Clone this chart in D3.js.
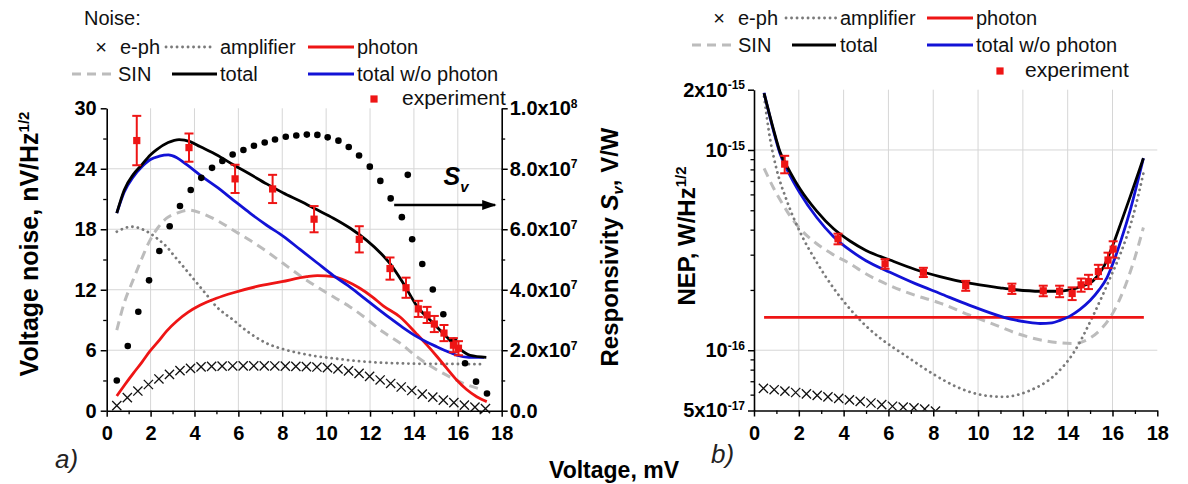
<!DOCTYPE html>
<html><head><meta charset="utf-8">
<script src="https://cdn.jsdelivr.net/npm/d3@7"></script>
<style>
body{margin:0;background:#fff;}
svg{display:block;font-family:"Liberation Sans",Arial,sans-serif;}
</style></head><body>
<svg id="c" width="1188" height="484"></svg>
<script>
// ---------------- DATA ----------------
// (a) Voltage noise, nV/Hz^1/2 vs bias voltage, mV
const respV = [0.46,0.96,1.44,1.93,2.40,2.87,3.34,3.83,4.31,4.80,5.27,5.74,6.23,6.71,7.20,7.67,8.16,8.64,9.12,9.60,10.07,10.56,11.03,11.50,11.99,12.47,12.94,13.45,13.72,13.92,14.38,14.86,15.34,15.83,16.33,16.83,17.33];
const respS = [1.0e7,2.14e7,3.27e7,4.31e7,5.28e7,6.1e7,6.77e7,7.3e7,7.7e7,8.03e7,8.26e7,8.47e7,8.62e7,8.76e7,8.87e7,8.97e7,9.06e7,9.1e7,9.13e7,9.12e7,9.04e7,8.93e7,8.72e7,8.44e7,8.07e7,7.6e7,7.02e7,6.4e7,7.8e7,5.67e7,4.85e7,4.01e7,3.19e7,2.31e7,1.57e7,0.96e7,0.57e7];

const ephV = [0.46,0.94,1.42,1.9,2.38,2.86,3.34,3.82,4.3,4.78,5.26,5.74,6.22,6.7,7.18,7.66,8.14,8.62,9.1,9.58,10.06,10.54,11.02,11.5,11.98,12.46,12.94,13.42,13.9,14.38,14.86,15.34,15.82,16.3,16.78,17.26];
const ephN = [0.5,1.3,1.95,2.6,3.15,3.6,3.97,4.2,4.35,4.4,4.42,4.44,4.45,4.45,4.45,4.44,4.42,4.4,4.37,4.33,4.27,4.15,3.95,3.7,3.4,3.05,2.7,2.35,2.0,1.65,1.35,1.05,0.8,0.55,0.35,0.2];

const ampV = [0.46,0.8,1.14,1.5,1.97,2.35,2.73,3.1,3.49,3.87,4.25,4.63,5.01,5.39,5.77,6.15,6.53,6.9,7.29,8.05,8.81,9.57,10.33,11.09,11.85,12.6,13.37,14.5,15.5,16.5,17.2];
const ampN = [17.76,18.1,18.25,18.1,17.6,17.0,16.27,15.3,14.3,13.3,12.3,11.3,10.3,9.6,9.0,8.3,7.68,7.15,6.69,6.1,5.7,5.4,5.2,5.0,4.86,4.75,4.7,4.65,4.65,4.62,4.62];

const sinV = [0.46,0.8,1.21,1.6,1.97,2.35,2.73,3.2,3.72,4.3,5.01,5.77,6.53,7.29,8.05,8.81,9.57,10.33,11.09,11.85,12.6,13.37,14.13,14.7,15.34,16.25,17.17];
const sinN = [8.0,10.7,13.0,15.1,16.9,18.2,19.1,19.6,19.9,19.6,18.9,17.9,16.9,15.8,14.6,13.4,12.3,11.3,10.3,9.1,7.8,6.7,5.36,4.5,3.7,2.72,2.05];

const photV = [0.46,0.8,1.21,1.6,1.97,2.4,2.73,3.2,3.7,4.25,5.0,5.77,6.8,7.98,9.12,9.6,10.33,10.94,11.5,12.1,12.6,13.37,14.13,14.6,15.04,15.5,15.95,16.4,16.86,17.32];
const photN = [1.46,2.5,3.7,4.8,5.9,7.0,7.9,8.9,9.75,10.45,11.15,11.7,12.3,12.8,13.3,13.4,13.3,12.85,12.2,11.3,10.4,9.3,7.6,6.5,5.4,4.2,3.05,2.1,1.39,0.9];

const totV = [0.46,0.8,1.2,1.52,2.0,2.28,2.8,3.3,3.8,4.25,5.0,5.77,6.5,7.29,8.05,8.81,9.57,10.33,11.1,11.85,12.5,12.91,13.5,14.13,14.89,15.5,15.95,16.56,17.3];
const totN = [19.6,21.9,23.4,24.2,25.4,25.9,26.6,26.9,26.7,26.2,25.4,24.4,23.5,22.5,21.6,20.8,19.95,19.1,18.1,16.9,15.6,14.6,12.7,10.4,8.67,7.3,6.35,5.5,5.3];

const wopV = [0.46,0.8,1.21,1.6,1.97,2.4,2.81,3.2,3.65,4.3,5.01,5.77,6.53,7.29,8.05,8.81,9.57,10.33,11.0,11.6,12.3,12.9,13.5,14.13,14.6,15.04,15.5,15.95,16.5,17.2];
const wopN = [19.6,21.7,23.2,24.2,24.9,25.25,25.37,25.1,24.4,23.3,22.2,20.9,19.6,18.4,17.3,16.0,14.7,13.4,12.4,11.4,10.2,9.2,8.25,7.35,6.8,6.35,5.9,5.5,5.3,5.3];

const expV = [1.37,3.75,5.85,7.56,9.45,11.51,12.91,13.64,14.2,14.6,14.93,15.37,15.8,16.03];
const expN = [26.8,26.1,23.0,22.0,19.0,17.0,14.1,12.2,10.1,9.5,8.6,7.7,6.5,6.2];
const expNErr = [2.45,1.4,1.4,1.4,1.3,1.3,1.1,1.0,0.8,0.8,0.8,0.8,0.7,0.7];

// (b) NEP, units of 1e-16 W/Hz^1/2
const ephNEPV = [0.42,0.9,1.38,1.86,2.34,2.82,3.3,3.78,4.26,4.74,5.22,5.7,6.18,6.66,7.14,7.62,8.1];
const ephNEP = [0.645,0.635,0.625,0.615,0.605,0.595,0.585,0.575,0.565,0.555,0.545,0.535,0.525,0.52,0.515,0.508,0.497];

const ampNEPV = [0.45,0.71,1.01,1.46,2.05,2.8,3.54,4.3,5.0,5.63,6.82,8.0,9.0,10.09,11.13,12.32,13.36,14.26,15.15,15.9,16.34,16.9,17.38];
const ampNEP = [18.5,11.5,8.0,5.6,3.9,2.75,2.05,1.6,1.32,1.15,0.93,0.76,0.66,0.6,0.585,0.63,0.74,0.97,1.5,2.3,3.0,4.6,7.65];

const sinNEPV = [0.45,0.86,1.31,1.6,2.05,2.8,3.54,4.3,4.8,6.07,7.2,8.3,9.6,10.98,11.58,12.3,13.07,14.26,15.0,15.5,16.04,16.64,17.0,17.38];
const sinNEP = [8.1,6.5,5.3,4.7,4.05,3.4,3.0,2.7,2.48,2.1,1.88,1.72,1.5,1.31,1.23,1.16,1.11,1.08,1.15,1.28,1.55,2.2,2.9,4.1];

const photNEPV = [0.45,17.4];
const photNEP = [1.46,1.46];

const totNEPV = [0.45,0.86,1.16,1.6,2.05,2.8,3.54,4.3,5.0,6.07,7.2,8.3,9.6,10.98,11.58,12.77,13.5,14.1,14.6,15.13,15.6,16.04,16.4,16.79,17.38];
const totNEP = [19.2,12.8,9.8,7.8,6.4,4.95,4.05,3.5,3.15,2.82,2.53,2.33,2.16,2.05,2.01,1.97,1.97,2.0,2.08,2.22,2.6,3.4,4.4,5.85,9.1];

const wopNEPV = [0.45,0.86,1.16,1.6,2.05,2.8,3.54,4.3,5.0,6.07,7.2,8.3,9.6,10.98,11.58,12.2,12.77,13.3,13.66,14.1,14.55,15.0,15.4,15.75,16.04,16.4,16.79,17.38];
const wopNEP = [19.3,12.6,9.6,7.5,6.1,4.6,3.7,3.15,2.8,2.45,2.15,1.92,1.68,1.48,1.42,1.38,1.36,1.37,1.41,1.48,1.6,1.77,2.0,2.3,2.75,3.6,5.0,9.1];

const expNEPV = [1.37,3.75,5.85,7.56,9.45,11.51,12.91,13.64,14.2,14.6,14.93,15.37,15.8,16.03];
const expNEP = [8.5,3.6,2.7,2.45,2.1,2.03,1.98,1.97,1.92,2.12,2.2,2.47,2.82,3.2];
const expNEPErr = [0.85,0.22,0.15,0.13,0.12,0.12,0.12,0.13,0.14,0.16,0.18,0.2,0.25,0.3];

// ticks
const xTicks = [0,2,4,6,8,10,12,14,16,18];
const xMinor = [1,3,5,7,9,11,13,15,17];
const xGrid = [2,4,6,8,10,12,14,16];
const noiseTicks = [0,6,12,18,24,30];
const noiseMinor = [3,9,15,21,27];
const noiseGrid = [6,12,18,24];
const respTicks = [0,2e7,4e7,6e7,8e7,1e8];
const respMinor = [1e7,3e7,5e7,7e7,9e7];
const respLabels = [["0.0",""],["2.0x10","7"],["4.0x10","7"],["6.0x10","7"],["8.0x10","7"],["1.0x10","8"]];
const nepTicks = [5e-17,1e-16,1e-15,2e-15];
const nepMinor = [6e-17,7e-17,8e-17,9e-17,2e-16,3e-16,4e-16,5e-16,6e-16,7e-16,8e-16,9e-16];
const nepGrid = [1e-16,1e-15];
const nepLabels = [["5x10","-17"],["10","-16"],["10","-15"],["2x10","-15"]];

// ---------------- DRAW ----------------
const svg = d3.select("#c");
const FONT = '"Liberation Sans", Arial, sans-serif';
const RED = "#ee1515", BLUE = "#1212d6", GRID = "#d6d6d6";

const xL = d3.scaleLinear([0,18],[106.7,501.7]);
const yL = d3.scaleLinear([0,30],[410.7,108.3]);
const yS = d3.scaleLinear([0,1e8],[410.7,108.3]);
const xR = d3.scaleLinear([0,18],[754,1157.3]);
const yN = d3.scaleLog([5e-17,2e-15],[410.5,89.7]);

const defs = svg.append("defs");
defs.append("clipPath").attr("id","clipR").append("rect")
  .attr("x",xR(0)).attr("y",yN(2e-15)).attr("width",xR(18)-xR(0)+10).attr("height",yN(5e-17)-yN(2e-15));
defs.append("marker").attr("id","arr").attr("viewBox","0 0 10 10").attr("refX",9).attr("refY",5)
  .attr("markerWidth",6).attr("markerHeight",6).attr("orient","auto").attr("markerUnits","strokeWidth")
  .append("path").attr("d","M0,1.5L10,5L0,8.5Z").attr("fill","#000");

// grids
const gl = svg.append("g");
gl.selectAll("line.v").data(xGrid).join("line").attr("class","v").attr("x1",d=>xL(d)).attr("x2",d=>xL(d))
  .attr("y1",yL(0)).attr("y2",yL(30)).attr("stroke",GRID).attr("stroke-width",1);
gl.selectAll("line.h").data(noiseGrid).join("line").attr("class","h").attr("y1",d=>yL(d)).attr("y2",d=>yL(d))
  .attr("x1",xL(0)).attr("x2",xL(18)).attr("stroke",GRID).attr("stroke-width",1);
const gr = svg.append("g");
gr.selectAll("line.v").data(xGrid).join("line").attr("class","v").attr("x1",d=>xR(d)).attr("x2",d=>xR(d))
  .attr("y1",yN(5e-17)).attr("y2",yN(2e-15)).attr("stroke",GRID).attr("stroke-width",1);
gr.selectAll("line.h").data(nepGrid).join("line").attr("class","h").attr("y1",d=>yN(d)).attr("y2",d=>yN(d))
  .attr("x1",xR(0)).attr("x2",xR(18)).attr("stroke",GRID).attr("stroke-width",1);

const styles = {
  sin:{stroke:"#bcbcbc", w:3, dash:"9 6", cap:"butt"},
  amp:{stroke:"#7a7a7a", w:2.8, dash:"0.1 5.4", cap:"round"},
  phot:{stroke:RED, w:2.8, dash:null, cap:"butt"},
  wop:{stroke:BLUE, w:2.8, dash:null, cap:"butt"},
  tot:{stroke:"#000", w:2.8, dash:null, cap:"butt"}
};
function drawLine(g, xs, ys, sx, sy, st){
  const line = d3.line().x(d=>sx(d[0])).y(d=>sy(d[1])).curve(d3.curveMonotoneX);
  g.append("path").datum(d3.zip(xs,ys)).attr("d",line).attr("fill","none")
   .attr("stroke",st.stroke).attr("stroke-width",st.w).attr("stroke-dasharray",st.dash)
   .attr("stroke-linecap",st.cap).attr("stroke-linejoin","round");
}
const crossPath = "M-4.6,-4.6L4.6,4.6M-4.6,4.6L4.6,-4.6";

// ---- panel a ----
const pa = svg.append("g");
drawLine(pa, sinV, sinN, xL, yL, styles.sin);
drawLine(pa, ampV, ampN, xL, yL, styles.amp);
pa.selectAll("path.x").data(d3.zip(ephV,ephN)).join("path").attr("class","x")
  .attr("transform",d=>`translate(${xL(d[0])},${yL(d[1])})`).attr("d",crossPath)
  .attr("stroke","#111").attr("stroke-width",1.3).attr("fill","none");
drawLine(pa, photV, photN, xL, yL, styles.phot);
drawLine(pa, wopV, wopN, xL, yL, styles.wop);
drawLine(pa, totV, totN, xL, yL, styles.tot);
pa.selectAll("circle.s").data(d3.zip(respV,respS)).join("circle").attr("class","s")
  .attr("cx",d=>xL(d[0])).attr("cy",d=>yS(d[1])).attr("r",3.3).attr("fill","#000");
function drawExp(g, xs, ys, es, sx, sy, scale){
  const dd = d3.zip(xs,ys,es);
  const eg = g.append("g").attr("stroke",RED).attr("stroke-width",2);
  eg.selectAll("line.e").data(dd).join("line").attr("class","e").attr("x1",d=>sx(d[0])).attr("x2",d=>sx(d[0]))
    .attr("y1",d=>sy((d[1]-d[2])*scale)).attr("y2",d=>sy((d[1]+d[2])*scale));
  eg.selectAll("line.t").data(dd).join("line").attr("class","t").attr("x1",d=>sx(d[0])-4.5).attr("x2",d=>sx(d[0])+4.5)
    .attr("y1",d=>sy((d[1]+d[2])*scale)).attr("y2",d=>sy((d[1]+d[2])*scale));
  eg.selectAll("line.b").data(dd).join("line").attr("class","b").attr("x1",d=>sx(d[0])-4.5).attr("x2",d=>sx(d[0])+4.5)
    .attr("y1",d=>sy((d[1]-d[2])*scale)).attr("y2",d=>sy((d[1]-d[2])*scale));
  g.selectAll("rect.m").data(dd).join("rect").attr("class","m").attr("x",d=>sx(d[0])-3.6).attr("y",d=>sy(d[1]*scale)-3.6)
    .attr("width",7.2).attr("height",7.2).attr("fill",RED);
}
drawExp(pa, expV, expN, expNErr, xL, yL, 1);

// S_v arrow annotation
pa.append("line").attr("x1",xL(13.1)).attr("x2",xL(17.7)).attr("y1",yL(20.4)).attr("y2",yL(20.4))
  .attr("stroke","#000").attr("stroke-width",2.4).attr("marker-end","url(#arr)");
const sv = pa.append("text").attr("x",xL(15.35)).attr("y",yL(22.4)).attr("font-size",25)
  .attr("font-weight","bold").attr("font-style","italic").attr("font-family",FONT);
sv.append("tspan").text("S");
sv.append("tspan").attr("dy",7).attr("font-size",15).text("v");

// ---- panel b ----
const pb = svg.append("g").attr("clip-path","url(#clipR)");
const yNv = v=>yN(v*1e-16);
drawLine(pb, sinNEPV, sinNEP, xR, yNv, styles.sin);
drawLine(pb, ampNEPV, ampNEP, xR, yNv, styles.amp);
pb.selectAll("path.x").data(d3.zip(ephNEPV,ephNEP)).join("path").attr("class","x")
  .attr("transform",d=>`translate(${xR(d[0])},${yNv(d[1])})`).attr("d",crossPath)
  .attr("stroke","#111").attr("stroke-width",1.3).attr("fill","none");
drawLine(pb, photNEPV, photNEP, xR, yNv, styles.phot);
drawLine(pb, wopNEPV, wopNEP, xR, yNv, styles.wop);
drawLine(pb, totNEPV, totNEP, xR, yNv, styles.tot);
drawExp(svg.append("g"), expNEPV, expNEP, expNEPErr, xR, yN, 1e-16);

// ---- axes ----
function styleAxis(g){
  g.attr("font-family",FONT).attr("font-size",20).attr("font-weight","bold");
  g.selectAll("path.domain").attr("stroke","#000").attr("stroke-width",1.6);
  g.selectAll(".tick line").attr("stroke","#000").attr("stroke-width",1.5);
  g.selectAll(".tick text").attr("fill","#000");
}
function minor(g){ g.select("path.domain").remove(); g.selectAll(".tick line").attr("stroke","#000").attr("stroke-width",1.3); }
function supLabels(g, labels, supSize){
  g.selectAll(".tick text").each(function(d,i){
    const t = d3.select(this); const lab = labels[i];
    t.text(null); t.append("tspan").text(lab[0]);
    if(lab[1]) t.append("tspan").attr("dy","-0.6em").attr("font-size",supSize).text(lab[1]);
  });
}
// panel a axes
svg.append("g").attr("transform",`translate(0,${yL(0)})`)
  .call(d3.axisBottom(xL).tickValues(xTicks).tickSize(6).tickSizeOuter(0).tickPadding(9).tickFormat(d3.format("d"))).call(styleAxis);
svg.append("g").attr("transform",`translate(0,${yL(0)})`)
  .call(d3.axisBottom(xL).tickValues(xMinor).tickSize(3.5).tickFormat("")).call(minor);
svg.append("g").attr("transform",`translate(${xL(0)},0)`)
  .call(d3.axisLeft(yL).tickValues(noiseTicks).tickSize(6).tickSizeOuter(0).tickPadding(4).tickFormat(d3.format("d"))).call(styleAxis);
svg.append("g").attr("transform",`translate(${xL(0)},0)`)
  .call(d3.axisLeft(yL).tickValues(noiseMinor).tickSize(3.5).tickFormat("")).call(minor);
const ra = svg.append("g").attr("transform",`translate(${xL(18)},0)`)
  .call(d3.axisRight(yS).tickValues(respTicks).tickSize(6).tickSizeOuter(0).tickPadding(2)).call(styleAxis);
supLabels(ra, respLabels, 12);
svg.append("g").attr("transform",`translate(${xL(18)},0)`)
  .call(d3.axisRight(yS).tickValues(respMinor).tickSize(3.5).tickFormat("")).call(minor);
// panel b axes
svg.append("g").attr("transform",`translate(0,${yN(5e-17)})`)
  .call(d3.axisBottom(xR).tickValues(xTicks).tickSize(6).tickSizeOuter(0).tickPadding(9).tickFormat(d3.format("d"))).call(styleAxis);
svg.append("g").attr("transform",`translate(0,${yN(5e-17)})`)
  .call(d3.axisBottom(xR).tickValues(xMinor).tickSize(3.5).tickFormat("")).call(minor);
const na = svg.append("g").attr("transform",`translate(${xR(0)},0)`)
  .call(d3.axisLeft(yN).tickValues(nepTicks).tickSize(6).tickSizeOuter(0).tickPadding(3)).call(styleAxis);
supLabels(na, nepLabels, 12);
svg.append("g").attr("transform",`translate(${xR(0)},0)`)
  .call(d3.axisLeft(yN).tickValues(nepMinor).tickSize(3.5).tickFormat("")).call(minor);

// ---- axis titles ----
const t1 = svg.append("text").attr("transform","translate(38,244) rotate(-90)").attr("text-anchor","middle")
  .attr("font-family",FONT).attr("font-size",25).attr("font-weight","bold");
t1.append("tspan").text("Voltage noise, nV/Hz");
t1.append("tspan").attr("dy","-0.6em").attr("font-size",15).text("1/2");
const t2 = svg.append("text").attr("transform","translate(618,247) rotate(-90)").attr("text-anchor","middle")
  .attr("font-family",FONT).attr("font-size",24).attr("font-weight","bold");
t2.append("tspan").text("Responsivity ");
t2.append("tspan").attr("font-style","italic").text("S");
t2.append("tspan").attr("dy","0.35em").attr("font-size",15).attr("font-style","italic").text("v");
t2.append("tspan").attr("dy","-0.22em").text(", V/W");
const t3 = svg.append("text").attr("transform","translate(695,236) rotate(-90)").attr("text-anchor","middle")
  .attr("font-family",FONT).attr("font-size",24).attr("font-weight","bold");
t3.append("tspan").text("NEP, W/Hz");
t3.append("tspan").attr("dy","-0.6em").attr("font-size",15).text("1/2");
svg.append("text").attr("x",614).attr("y",478).attr("text-anchor","middle").attr("font-family",FONT)
  .attr("font-size",23).attr("font-weight","bold").text("Voltage, mV");
svg.append("text").attr("x",55).attr("y",468).attr("font-family",FONT).attr("font-size",26)
  .attr("font-style","italic").attr("fill","#222").text("a)");
svg.append("text").attr("x",711).attr("y",463).attr("font-family",FONT).attr("font-size",26)
  .attr("font-style","italic").attr("fill","#222").text("b)");

// ---- legends ----
function legend(rows){
  const g = svg.append("g").attr("font-family",FONT).attr("font-size",20).attr("fill","#111");
  rows.forEach(r=>{
    if(r.type==="text") g.append("text").attr("x",r.x).attr("y",r.y).attr("font-size",r.fs||20).text(r.label);
    else if(r.type==="cross") g.append("text").attr("x",r.x).attr("y",r.y).attr("text-anchor","middle").text("×");
    else if(r.type==="sq") g.append("rect").attr("x",r.x-3.6).attr("y",r.y-3.6).attr("width",7.2).attr("height",7.2).attr("fill",RED);
    else {
      const st = styles[r.type];
      g.append("line").attr("x1",r.x1).attr("x2",r.x2).attr("y1",r.y).attr("y2",r.y).attr("stroke",st.stroke)
        .attr("stroke-width",st.w).attr("stroke-dasharray",st.dash).attr("stroke-linecap",st.cap);
    }
  });
}
legend([
  {type:"text",x:84,y:25,label:"Noise:"},
  {type:"cross",x:101,y:54},{type:"text",x:120,y:54,label:"e-ph"},
  {type:"amp",x1:166,x2:215,y:47},{type:"text",x:220,y:54,label:"amplifier"},
  {type:"phot",x1:308,x2:354,y:47},{type:"text",x:357,y:54,label:"photon"},
  {type:"sin",x1:72,x2:116,y:74},{type:"text",x:118,y:81,label:"SIN"},
  {type:"tot",x1:172,x2:217,y:74},{type:"text",x:220,y:81,label:"total"},
  {type:"wop",x1:308,x2:354,y:74},{type:"text",x:357,y:81,label:"total w/o photon"},
  {type:"sq",x:374,y:99},{type:"text",x:402,y:105,fs:21,label:"experiment"}
]);
legend([
  {type:"cross",x:719,y:25},{type:"text",x:738,y:25,label:"e-ph"},
  {type:"amp",x1:786,x2:836,y:18},{type:"text",x:840,y:25,label:"amplifier"},
  {type:"phot",x1:927,x2:973,y:18},{type:"text",x:976,y:25,label:"photon"},
  {type:"sin",x1:692,x2:736,y:45},{type:"text",x:738,y:52,label:"SIN"},
  {type:"tot",x1:792,x2:836,y:45},{type:"text",x:840,y:52,label:"total"},
  {type:"wop",x1:927,x2:973,y:45},{type:"text",x:976,y:52,label:"total w/o photon"},
  {type:"sq",x:1000,y:71},{type:"text",x:1025,y:77,fs:21,label:"experiment"}
]);
</script>
</body></html>
